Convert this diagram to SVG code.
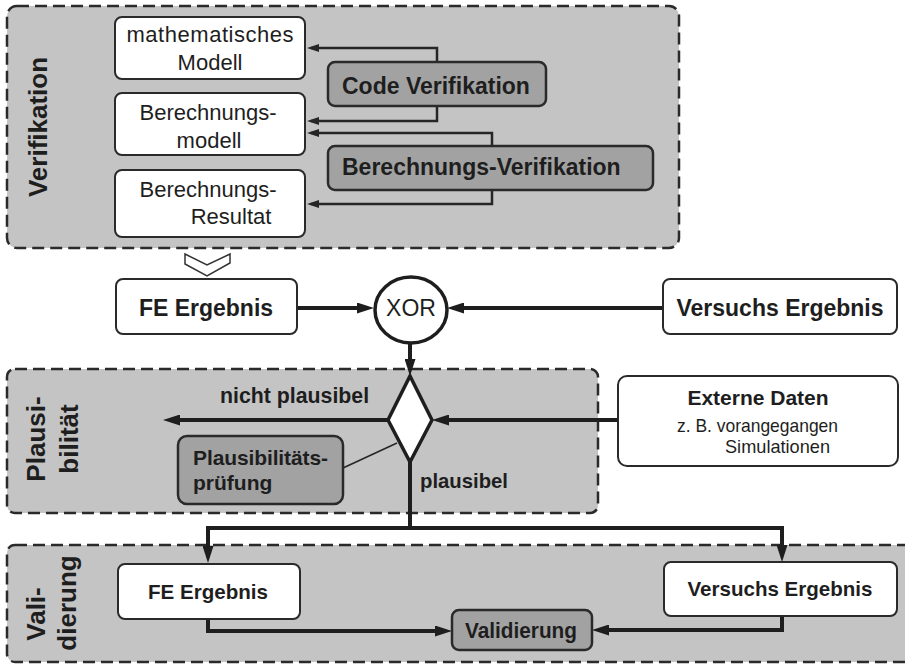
<svg xmlns="http://www.w3.org/2000/svg" width="905" height="664" viewBox="0 0 905 664">
  <style>
    .panel { fill: #c4c4c4; stroke: #2a2a2a; stroke-width: 2.5; stroke-dasharray: 12 6; }
    .node { fill: #ffffff; stroke: #2a2a2a; stroke-width: 2; }
    .proc { fill: #a2a2a2; stroke: #2a2a2a; stroke-width: 2.5; }
    .t { font-family: "Liberation Sans", Arial, sans-serif; fill: #1e1e1e; }
    .b { font-weight: bold; }
    .mid { text-anchor: middle; }
    .side { font-size: 26px; font-weight: bold; text-anchor: middle; }
    .thin { fill: none; stroke: #262626; stroke-width: 2.5; marker-end: url(#ah-thin); }
    .thick { fill: none; stroke: #1e1e1e; stroke-width: 4; }
    .thick.arr { marker-end: url(#ah-thick); }
  </style>
  <defs>
    <marker id="ah-thin" markerUnits="userSpaceOnUse" markerWidth="12" markerHeight="8" refX="8" refY="4" orient="auto">
      <path d="M0,0 L12,4 L0,8 z" fill="#262626"/>
    </marker>
    <marker id="ah-thick" markerUnits="userSpaceOnUse" markerWidth="17" markerHeight="11" refX="11" refY="5.5" orient="auto">
      <path d="M0,0 L17,5.5 L0,11 z" fill="#1e1e1e"/>
    </marker>
  </defs>

  <rect width="905" height="664" fill="#ffffff"/>

  <!-- swimlane panels -->
  <g id="panel-verifikation">
    <rect class="panel" x="7" y="6" width="672" height="242" rx="10"/>
    <text class="t side" transform="translate(47,127) rotate(-90)">Verifikation</text>
  </g>
  <g id="panel-plausibilitaet">
    <rect class="panel" x="7" y="369" width="591" height="144" rx="8"/>
    <text class="t side" transform="translate(45,439) rotate(-90)">Plausi-</text>
    <text class="t side" transform="translate(78,439) rotate(-90)">bilität</text>
  </g>
  <g id="panel-validierung">
    <rect class="panel" x="7" y="545" width="920" height="117" rx="8"/>
    <text class="t side" transform="translate(45,614) rotate(-90)">Vali-</text>
    <text class="t side" transform="translate(76,603) rotate(-90)">dierung</text>
  </g>

  <!-- connectors -->
  <g id="connectors">
    <path class="thin" d="M437,62 V48 H311"/>
    <path class="thin" d="M437,106 V121 H311"/>
    <path class="thin" d="M492,146 V133 H311"/>
    <path class="thin" d="M492,190 V204 H311"/>

    <polygon points="185,254 207,265 230,254 230,263 207,276 185,264" fill="#ffffff" stroke="#333333" stroke-width="1.5" stroke-linejoin="miter"/>

    <path class="thick arr" d="M297,308 H368"/>
    <path class="thick arr" d="M663,308 H453"/>
    <path class="thick arr" d="M410,343 V370"/>
    <path class="thick arr" d="M388,420 H169"/>
    <path class="thick arr" d="M618,420 H438"/>
    <path class="thick arr" d="M410,462 V528 H208 V557"/>
    <path class="thick arr" d="M410,528 H782 V556"/>
    <path class="thick arr" d="M208,619 V631 H446"/>
    <path class="thick arr" d="M782,616 V630 H598"/>
    <path d="M343,468 L397,443" fill="none" stroke="#262626" stroke-width="1.6"/>
  </g>

  <!-- verification nodes -->
  <g id="mathematisches-modell">
    <rect class="node" x="115" y="17" width="190" height="62" rx="7"/>
    <text class="t mid" x="210" y="42" font-size="22" textLength="167">mathematisches</text>
    <text class="t mid" x="210" y="70" font-size="22">Modell</text>
  </g>
  <g id="berechnungsmodell">
    <rect class="node" x="115" y="93" width="190" height="62" rx="7"/>
    <text class="t mid" x="208" y="120" font-size="22">Berechnungs-</text>
    <text class="t mid" x="209" y="148" font-size="22">modell</text>
  </g>
  <g id="berechnungsresultat">
    <rect class="node" x="115" y="170" width="190" height="67" rx="7"/>
    <text class="t mid" x="208" y="197" font-size="22">Berechnungs-</text>
    <text class="t mid" x="231" y="224" font-size="22">Resultat</text>
  </g>
  <g id="code-verifikation">
    <rect class="proc" x="328" y="62" width="218" height="44" rx="7"/>
    <text class="t b" x="342" y="94" font-size="23">Code Verifikation</text>
  </g>
  <g id="berechnungs-verifikation">
    <rect class="proc" x="328" y="146" width="325" height="44" rx="7"/>
    <text class="t b" x="342" y="175" font-size="23">Berechnungs-Verifikation</text>
  </g>

  <!-- comparison row -->
  <g id="fe-ergebnis">
    <rect class="node" x="116" y="279" width="181" height="55" rx="7"/>
    <text class="t b mid" x="206" y="316" font-size="23">FE Ergebnis</text>
  </g>
  <g id="xor">
    <ellipse cx="411" cy="310" rx="36" ry="33" fill="#ffffff" stroke="#1e1e1e" stroke-width="3.5"/>
    <text class="t mid" x="411" y="316" font-size="23">XOR</text>
  </g>
  <g id="versuchs-ergebnis">
    <rect class="node" x="663" y="279" width="234" height="55" rx="7"/>
    <text class="t b mid" x="780" y="316" font-size="23">Versuchs Ergebnis</text>
  </g>

  <!-- plausibility check -->
  <g id="entscheidung">
    <polygon points="410,376 432,420 410,462 388,420" fill="#ffffff" stroke="#1e1e1e" stroke-width="3.5" stroke-linejoin="miter"/>
  </g>
  <g id="label-nicht-plausibel">
    <text class="t b" x="220" y="403" font-size="21.3">nicht plausibel</text>
  </g>
  <g id="label-plausibel">
    <text class="t b" x="420" y="488" font-size="21" textLength="88" lengthAdjust="spacingAndGlyphs">plausibel</text>
  </g>
  <g id="plausibilitaetspruefung">
    <rect class="proc" x="178" y="436" width="165" height="68" rx="9"/>
    <text class="t b" x="193" y="465" font-size="21" textLength="135">Plausibilitäts-</text>
    <text class="t b" x="193" y="490" font-size="21">prüfung</text>
  </g>
  <g id="externe-daten">
    <rect class="node" x="618" y="376" width="280" height="90" rx="9"/>
    <text class="t b mid" x="758" y="405" font-size="21">Externe Daten</text>
    <text class="t" x="677" y="432" font-size="18.5" textLength="161" lengthAdjust="spacingAndGlyphs">z. B. vorangegangen</text>
    <text class="t" x="725" y="453" font-size="18.5" textLength="105" lengthAdjust="spacingAndGlyphs">Simulationen</text>
  </g>

  <!-- validation -->
  <g id="fe-ergebnis-validierung">
    <rect class="node" x="118" y="564" width="182" height="55" rx="7"/>
    <text class="t b mid" x="208" y="599" font-size="21" textLength="120" lengthAdjust="spacingAndGlyphs">FE Ergebnis</text>
  </g>
  <g id="versuchs-ergebnis-validierung">
    <rect class="node" x="664" y="562" width="233" height="54" rx="7"/>
    <text class="t b mid" x="780" y="596" font-size="21" textLength="185" lengthAdjust="spacingAndGlyphs">Versuchs Ergebnis</text>
  </g>
  <g id="validierung">
    <rect class="proc" x="452" y="610" width="140" height="40" rx="7"/>
    <text class="t b mid" x="521" y="638" font-size="21.5" textLength="112" lengthAdjust="spacingAndGlyphs">Validierung</text>
  </g>
</svg>
